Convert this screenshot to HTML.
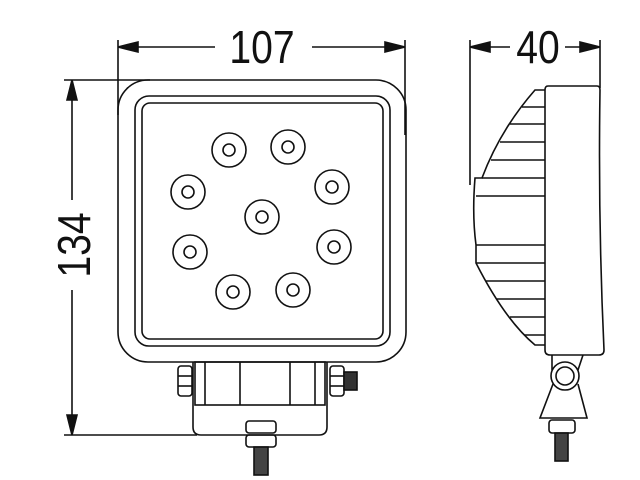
<!DOCTYPE html>
<html><head><style>html,body{margin:0;padding:0;background:#fff}svg{display:block}</style></head><body>
<svg width="640" height="480" viewBox="0 0 640 480" xmlns="http://www.w3.org/2000/svg" fill="none" stroke="#111" stroke-width="1.6">
<!-- dimension 107 -->
<line x1="118" y1="40" x2="118" y2="115"/>
<line x1="405" y1="40" x2="405" y2="135"/>
<line x1="120" y1="47" x2="215" y2="47"/>
<line x1="312" y1="47" x2="403" y2="47"/>
<polygon points="118,47 138,42 138,52" fill="#111"/>
<polygon points="405,47 385,42 385,52" fill="#111"/>
<text x="262" y="63" font-family="Liberation Sans Narrow, Liberation Sans, sans-serif" font-size="46" fill="#111" stroke="none" text-anchor="middle" transform="translate(262,0) scale(0.85,1) translate(-262,0)">107</text>
<!-- dimension 134 -->
<line x1="64" y1="80" x2="150" y2="80"/>
<line x1="64" y1="435" x2="197" y2="435"/>
<line x1="72" y1="82" x2="72" y2="200"/>
<line x1="72" y1="290" x2="72" y2="433"/>
<polygon points="72,80 67,100 77,100" fill="#111"/>
<polygon points="72,435 67,415 77,415" fill="#111"/>
<text x="0" y="0" font-family="Liberation Sans, sans-serif" font-size="46" fill="#111" stroke="none" text-anchor="middle" transform="translate(90,245) rotate(-90) scale(0.85,1)">134</text>
<!-- front body -->
<rect x="118" y="80" width="288" height="282" rx="30"/>
<rect x="135" y="96" width="255" height="250" rx="14"/>
<rect x="142" y="103" width="241" height="236" rx="8"/>
<g>
<circle cx="229" cy="150" r="17"/><circle cx="229" cy="150" r="6"/>
<circle cx="288" cy="147" r="17"/><circle cx="288" cy="147" r="6"/>
<circle cx="188" cy="192" r="17"/><circle cx="188" cy="192" r="6"/>
<circle cx="332" cy="187" r="17"/><circle cx="332" cy="187" r="6"/>
<circle cx="262" cy="217" r="17"/><circle cx="262" cy="217" r="6"/>
<circle cx="190" cy="252" r="17"/><circle cx="190" cy="252" r="6"/>
<circle cx="334" cy="247" r="17"/><circle cx="334" cy="247" r="6"/>
<circle cx="233" cy="292" r="17"/><circle cx="233" cy="292" r="6"/>
<circle cx="293" cy="290" r="17"/><circle cx="293" cy="290" r="6"/>
</g>
<!-- bracket -->
<rect x="195" y="362" width="130" height="43"/>
<line x1="205" y1="362" x2="205" y2="405"/>
<line x1="240" y1="362" x2="240" y2="405"/>
<line x1="290" y1="362" x2="290" y2="405"/>
<line x1="315" y1="362" x2="315" y2="405"/>
<path d="M193,362 V427 Q193,435 201,435 H319 Q327,435 327,427 V362"/>
<rect x="178" y="366" width="14" height="30" rx="3"/>
<line x1="178" y1="376" x2="192" y2="376"/><line x1="178" y1="386" x2="192" y2="386"/>
<rect x="330" y="366" width="14" height="30" rx="3"/>
<line x1="330" y1="376" x2="344" y2="376"/><line x1="330" y1="386" x2="344" y2="386"/>
<rect x="344" y="372" width="13" height="18" fill="#333"/>
<rect x="246" y="421" width="30" height="12" rx="3"/>
<rect x="246" y="435" width="30" height="12" rx="3"/>
<rect x="254" y="447" width="14" height="28" fill="#444"/>
<!-- dimension 40 -->
<line x1="470" y1="40" x2="470" y2="185"/>
<line x1="600" y1="40" x2="600" y2="88"/>
<line x1="472" y1="47" x2="510" y2="47"/>
<line x1="565" y1="47" x2="598" y2="47"/>
<polygon points="470,47 490,42 490,52" fill="#111"/>
<polygon points="600,47 580,42 580,52" fill="#111"/>
<text x="538" y="63" font-family="Liberation Sans, sans-serif" font-size="46" fill="#111" stroke="none" text-anchor="middle" transform="translate(538,0) scale(0.85,1) translate(-538,0)">40</text>
<!-- side body -->
<path d="M548,86 H597 Q600,86 600,90 Q598,220 604,350 Q604,355 599,355 H550 Q545,355 545,350 V90 Q545,86 548,86 Z"/>
<path d="M545,90 H535 Q500,130 482,178 H475 Q472,215 476,245 V263 Q505,320 535,345 H545"/>
<g>
<line x1="522" y1="107" x2="545" y2="107"/>
<line x1="510" y1="124" x2="545" y2="124"/>
<line x1="500" y1="142" x2="545" y2="142"/>
<line x1="491" y1="160" x2="545" y2="160"/>
<line x1="482" y1="178" x2="545" y2="178"/>
<line x1="476" y1="196" x2="545" y2="196"/>
<line x1="476" y1="245" x2="545" y2="245"/>
<line x1="476" y1="263" x2="545" y2="263"/>
<line x1="486" y1="281" x2="545" y2="281"/>
<line x1="497" y1="299" x2="545" y2="299"/>
<line x1="510" y1="317" x2="545" y2="317"/>
<line x1="524" y1="335" x2="545" y2="335"/>
</g>
<path d="M552,355 L552,370 M583,355 L578,370"/>
<circle cx="565" cy="376" r="14"/><circle cx="565" cy="376" r="9"/>
<path d="M553,384 L540,418 H587 L578,384"/>
<rect x="549" y="420" width="26" height="13" rx="3"/>
<rect x="555" y="433" width="13" height="28" fill="#444"/>
</svg>
</body></html>
